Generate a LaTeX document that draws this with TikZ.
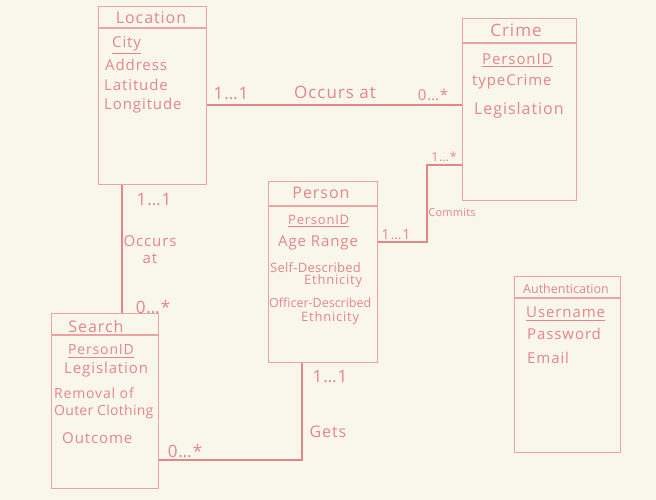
\documentclass[tikz,border=0pt]{standalone}
\usepackage{fontspec}
\setmainfont{Open Sans}[LetterSpace=6]
\definecolor{bg}{HTML}{F9F6EC}
\definecolor{ink}{HTML}{E3868A}
\definecolor{edge}{HTML}{EBA3A4}
\tikzset{
  box/.style={draw=edge, line width=1.2pt, anchor=north west, inner sep=0pt},
  conn/.style={draw=ink, line width=1.4pt},
  ttl/.style={text=ink, font=\fontsize{16}{18}\selectfont, inner sep=0pt},
  attr/.style={text=ink, font=\fontsize{15}{17}\selectfont, inner sep=0pt, anchor=west},
  small/.style={text=ink, font=\fontsize{11}{12}\selectfont, inner sep=0pt},
  card/.style={text=ink, font=\fontsize{17}{19}\selectfont, inner sep=0pt},
  uline/.style={draw=ink, line width=1pt}
}
\begin{document}
\begin{tikzpicture}[x=1pt,y=-1pt]
\fill[bg] (0,0) rectangle (656,500);
\useasboundingbox (0,0) rectangle (656,500);

% Location
\node[box, minimum width=108pt, minimum height=178pt] (loc) at (98,6) {};
\draw[draw=edge, line width=1.2pt] ([yshift=-22pt]loc.north west) -- ([yshift=-22pt]loc.north east);
\node[ttl] (locT) at (151,18) {Location};
\node[attr] (locA1) at (112,44) {City};
\draw[uline] ([yshift=-2pt]locA1.south west) -- ([yshift=-2pt]locA1.south east);
\node[attr] (locA2) at (105,65) {Address};
\node[attr] (locA3) at (104,85) {Latitude};
\node[attr] (locA4) at (104,106) {Longitude};

% Crime
\node[box, minimum width=114pt, minimum height=182pt] (crime) at (462,18) {};
\draw[draw=edge, line width=1.2pt] ([yshift=-25pt]crime.north west) -- ([yshift=-25pt]crime.north east);
\node[ttl, font=\fontsize{17}{19}\selectfont] (crT) at (516,30) {Crime};
\node[attr] (crA1) at (482,59) {PersonID};
\draw[uline] ([yshift=-2pt]crA1.south west) -- ([yshift=-2pt]crA1.south east);
\node[attr] (crA2) at (472,82) {typeCrime};
\node[attr, font=\fontsize{16}{18}\selectfont] (crA3) at (474,110) {Legislation};

% Person
\node[box, minimum width=109pt, minimum height=181pt] (person) at (268,181) {};
\draw[draw=edge, line width=1.2pt] ([yshift=-25pt]person.north west) -- ([yshift=-25pt]person.north east);
\node[ttl] (peT) at (321,193) {Person};
\node[attr, font=\fontsize{13}{15}\selectfont] (peA1) at (288,220) {PersonID};
\draw[uline] ([yshift=-2pt]peA1.south west) -- ([yshift=-2pt]peA1.south east);
\node[attr] (peA2) at (278,243) {Age Range};
\node[attr, font=\fontsize{13}{15}\selectfont] (peA3) at (270,268) {\addfontfeatures{LetterSpace=2}Self-Described};
\node[attr, font=\fontsize{13}{15}\selectfont] (peA3b) at (304,281) {Ethnicity};
\node[attr, font=\fontsize{12.5}{14}\selectfont] (peA4) at (269,303) {\addfontfeatures{LetterSpace=0}Officer-Described};
\node[attr, font=\fontsize{13}{15}\selectfont] (peA4b) at (301,318) {Ethnicity};

% Search
\node[box, minimum width=107pt, minimum height=175pt] (search) at (51,313) {};
\draw[draw=edge, line width=1.2pt] ([yshift=-22pt]search.north west) -- ([yshift=-22pt]search.north east);
\node[ttl] (seT) at (96,326) {Search};
\node[attr, font=\fontsize{14}{16}\selectfont] (seA1) at (68,350) {PersonID};
\draw[uline] ([yshift=-2pt]seA1.south west) -- ([yshift=-2pt]seA1.south east);
\node[attr] (seA2) at (64,370) {Legislation};
\node[attr, font=\fontsize{14}{16}\selectfont] (seA3) at (54,393) {Removal of};
\node[attr, font=\fontsize{14}{16}\selectfont] (seA3b) at (54,412) {\addfontfeatures{LetterSpace=2}Outer Clothing};
\node[attr] (seA4) at (62,438) {Outcome};

% Authentication
\node[box, minimum width=106pt, minimum height=176pt] (auth) at (514,276) {};
\draw[draw=edge, line width=1.2pt] ([yshift=-22pt]auth.north west) -- ([yshift=-22pt]auth.north east);
\node[ttl, font=\fontsize{12.5}{14}\selectfont] (auT) at (566,289) {\addfontfeatures{LetterSpace=0}Authentication};
\node[attr] (auA1) at (526,312) {Username};
\draw[uline] ([yshift=-3pt]auA1.south west) -- ([yshift=-3pt]auA1.south east);
\node[attr] (auA2) at (527,334) {Password};
\node[attr] (auA3) at (527,358) {Email};

% Location -- Crime
\coordinate (r1) at (0,105);
\draw[conn] (loc.east |- r1) -- (crime.west |- r1);
\node[card] (lc1) at (231,94) {1\dots1};
\node[card] (lc2) at (335,92) {Occurs at};
\node[card, font=\fontsize{15}{17}\selectfont] (lc3) at (433,95) {0\dots*};

% Crime -- Person
\coordinate (c1) at (427,165);
\coordinate (c2) at (427,242);
\draw[conn] (crime.west |- c1) -- (c1) -- (c2) -- (person.east |- c2);
\node[small, font=\fontsize{12.5}{14}\selectfont] (cp1) at (444,157) {1\dots*};
\node[small] (cp2) at (452,213) {\addfontfeatures{LetterSpace=2}Commits};
\node[card, font=\fontsize{14}{16}\selectfont] (cp3) at (396,235) {1\dots1};

% Location -- Search
\coordinate (v1) at (122,0);
\draw[conn] (loc.south -| v1) -- (search.north -| v1);
\node[card] (ls1) at (154,200) {1\dots1};
\node[card, align=center, font=\fontsize{15}{17}\selectfont] (ls2) at (150,250) {Occurs\\at};
\node[card] (ls3) at (153,307) {0\dots*};

% Person -- Search
\coordinate (g1) at (302,460);
\draw[conn] (person.south -| g1) -- (g1) -- (search.east |- g1);
\node[card] (ps1) at (330,377) {1\dots1};
\node[card, font=\fontsize{16}{18}\selectfont] (ps2) at (328,432) {Gets};
\node[card] (ps3) at (185,451) {0\dots*};
\end{tikzpicture}
\end{document}
